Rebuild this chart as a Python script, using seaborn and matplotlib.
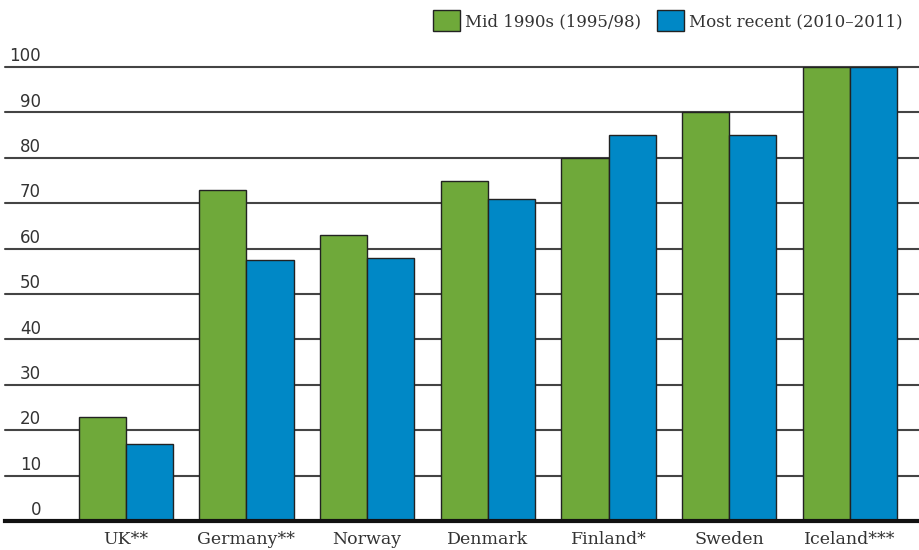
import matplotlib
matplotlib.use("Agg")
import matplotlib.pyplot as plt
import seaborn as sns
import pandas as pd
from matplotlib.patches import Patch
import matplotlib.transforms as mtransforms

countries = ["UK**", "Germany**", "Norway", "Denmark", "Finland*", "Sweden", "Iceland***"]
mid1990s = [23, 73, 63, 75, 80, 90, 100]
recent = [17, 57.5, 58, 71, 85, 85, 100]
series_names = ["Mid 1990s (1995/98)", "Most recent (2010\u20132011)"]
yticks = [0, 10, 20, 30, 40, 50, 60, 70, 80, 90, 100]
colors = ["#6fa93a", "#0088c6"]

df = pd.DataFrame({
    "country": countries * 2,
    "value": mid1990s + recent,
    "series": [series_names[0]] * len(countries) + [series_names[1]] * len(countries),
})

sns.set_style("white")
plt.rcParams["font.family"] = ["DejaVu Sans"]

fig = plt.figure(figsize=(9.2, 5.5), dpi=100)
ax = fig.add_axes([5 / 920, 29 / 550, 915 / 920, (521 - 67) / 550])

sns.barplot(data=df, x="country", y="value", hue="series", palette=colors,
            saturation=1, width=0.78, gap=0, edgecolor="#222222", linewidth=1.0,
            legend=False, ax=ax, zorder=3)

ax.set_ylim(0, 100)
ax.set_xlim(-1.0, 6.58)
ax.set_yticks(yticks)
ax.yaxis.grid(True, color="#444444", linewidth=1.5, zorder=0)
for gl in ax.get_ygridlines():
    gl.set_clip_on(False)
ax.set_axisbelow(True)
ax.set_yticklabels([])
ax.tick_params(axis="y", length=0)
ax.tick_params(axis="x", length=0, pad=7, labelsize=12.5, labelcolor="#333333")
for lab in ax.get_xticklabels():
    lab.set_family(["DejaVu Serif"])
ax.set_xlabel("")
ax.set_ylabel("")
for s in ["top", "right", "left"]:
    ax.spines[s].set_visible(False)
ax.spines["bottom"].set_color("#111111")
ax.spines["bottom"].set_linewidth(3)
ax.spines["bottom"].set_zorder(5)

trans = mtransforms.blended_transform_factory(ax.transAxes, ax.transData)
for t in yticks:
    ax.text(36 / 915, t + 0.4, str(t), transform=trans, ha="right", va="bottom",
            fontsize=12, color="#333333")

handles = [Patch(facecolor=c, edgecolor="#222222", linewidth=1.0) for c in colors]
fig.legend(handles, series_names, loc="upper right", bbox_to_anchor=(0.992, 1.0),
           ncol=2, frameon=False, handlelength=1.6, handleheight=1.6,
           handletextpad=0.3, columnspacing=1.0,
           prop={"family": "DejaVu Serif", "size": 12}, labelcolor="#333333",
           borderaxespad=0.2)

fig.savefig("out.png", dpi=100)
